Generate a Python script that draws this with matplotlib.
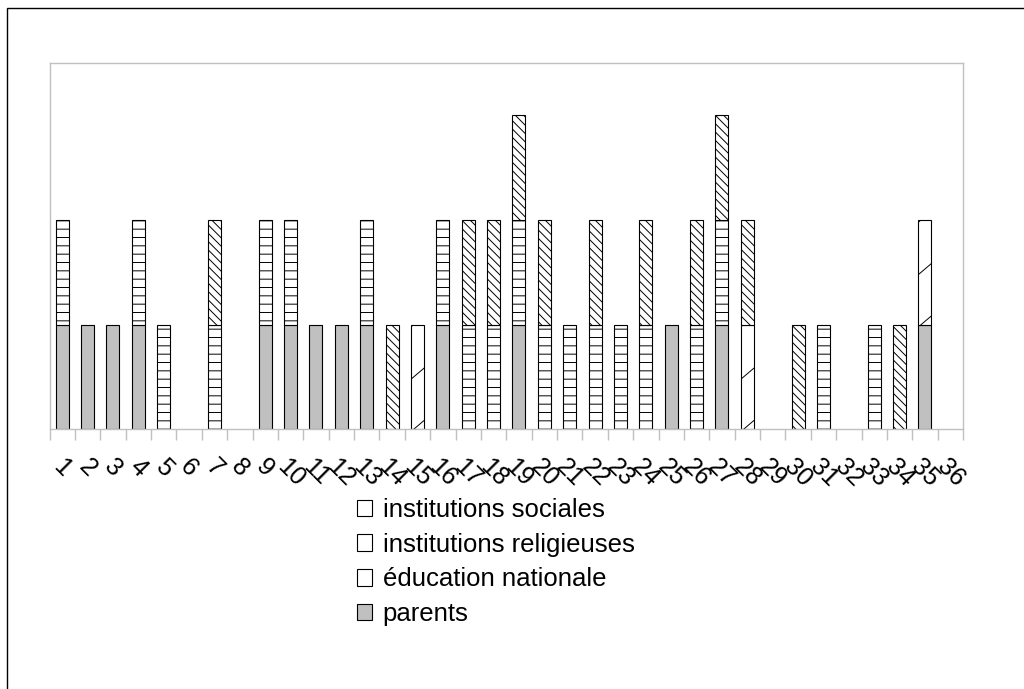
import numpy as np
import matplotlib
matplotlib.use("Agg")
import matplotlib.pyplot as plt
import matplotlib.transforms as mtransforms
from matplotlib.patches import Patch, Rectangle
from matplotlib.lines import Line2D

plt.rcParams['font.family'] = ['Liberation Sans', 'DejaVu Sans']
plt.rcParams['hatch.linewidth'] = 0.7

# ── Data (one unit per source, per case) ──────────────────────
cases = np.arange(1, 37)
parents     = [1, 1, 1, 1, 0, 0, 0, 0, 1, 1, 1, 1, 1, 0, 0, 1, 0, 0,
               1, 0, 0, 0, 0, 0, 1, 0, 1, 0, 0, 0, 0, 0, 0, 0, 1, 0]
education   = [1, 0, 0, 1, 1, 0, 1, 0, 1, 1, 0, 0, 1, 0, 0, 1, 1, 1,
               1, 1, 1, 1, 1, 1, 0, 1, 1, 0, 0, 0, 1, 0, 1, 0, 0, 0]
religieuses = [0, 0, 0, 0, 0, 0, 0, 0, 0, 0, 0, 0, 0, 0, 1, 0, 0, 0,
               0, 0, 0, 0, 0, 0, 0, 0, 0, 1, 0, 0, 0, 0, 0, 0, 1, 0]
sociales    = [0, 0, 0, 0, 0, 0, 1, 0, 0, 0, 0, 0, 0, 1, 0, 0, 1, 1,
               1, 1, 0, 1, 0, 1, 0, 1, 1, 1, 0, 1, 0, 0, 0, 1, 0, 0]
labels = ['parents', 'éducation nationale', 'institutions religieuses',
          'institutions sociales']

GRAY_AX = '#c0c0c0'
W = 0.51

fig = plt.figure(figsize=(10.24, 6.89), dpi=100)
ax = fig.add_axes([49.5/1024, 1-429.5/689, (963-49.5)/1024, (429.5-63)/689])

bottom = np.zeros(len(cases))
kw = dict(width=W, edgecolor='black', linewidth=0.8)
conts = []
conts.append(ax.bar(cases, parents, bottom=bottom, color='#c0c0c0', **kw))
bottom += parents
conts.append(ax.bar(cases, education, bottom=bottom, color='white',
                    hatch='--', **kw))
bottom += education
rel = ax.bar(cases, religieuses, bottom=bottom, color='white', **kw)
conts.append(rel)
bottom += religieuses
conts.append(ax.bar(cases, sociales, bottom=bottom, color='white',
                    hatch='\\\\\\\\', **kw))

# hide empty segments
for c in conts:
    for p in c.patches:
        if p.get_height() <= 0:
            p.set_visible(False)

# sparse "/" pattern for institutions religieuses
for p in rel.patches:
    if p.get_height() <= 0:
        continue
    x0, y0 = p.get_x(), p.get_y()
    for k in range(3):
        yy = y0 - 0.02 + 0.5 * k
        ln = Line2D([x0, x0 + W], [yy, yy + 0.105], color='black', lw=0.7)
        ax.add_line(ln)
        ln.set_clip_path(p)

ax.set_xlim(0.5, 36.5)
ax.set_ylim(0, 3.5)
ax.set_yticks([])
for s in ax.spines.values():
    s.set_color(GRAY_AX)
    s.set_linewidth(1.0)

ax.set_xticks(cases)
ax.set_xticklabels([str(c) for c in cases], rotation=-45, ha='center',
                   va='top', fontsize=18)
shift = mtransforms.ScaledTranslation(4/100, 0, fig.dpi_scale_trans)
for lab in ax.get_xticklabels():
    lab.set_transform(lab.get_transform() + shift)
ax.set_xticks(np.arange(0.5, 37, 1), minor=True)
ax.tick_params(axis='x', which='major', length=0, pad=18)
ax.tick_params(axis='x', which='minor', length=8, width=1.0, color=GRAY_AX)

handles = [Patch(facecolor='white', edgecolor='black', lw=0.8),
           Patch(facecolor='white', edgecolor='black', lw=0.8),
           Patch(facecolor='white', edgecolor='black', lw=0.8),
           Patch(facecolor='#c0c0c0', edgecolor='black', lw=0.8)]
fig.legend(handles, labels[::-1], loc='upper left',
           bbox_to_anchor=(344/1024, 1-485/689), frameon=False,
           fontsize=18.5, handlelength=0.6, handleheight=0.6,
           handletextpad=0.4, labelspacing=0.42, borderpad=0)

fig.add_artist(Rectangle((7/1024, -0.02), 1.05, 1.02 - 8/689,
                         transform=fig.transFigure, fill=False,
                         edgecolor='black', lw=1.0, clip_on=False))

fig.savefig('out.png', dpi=100, facecolor='white')
